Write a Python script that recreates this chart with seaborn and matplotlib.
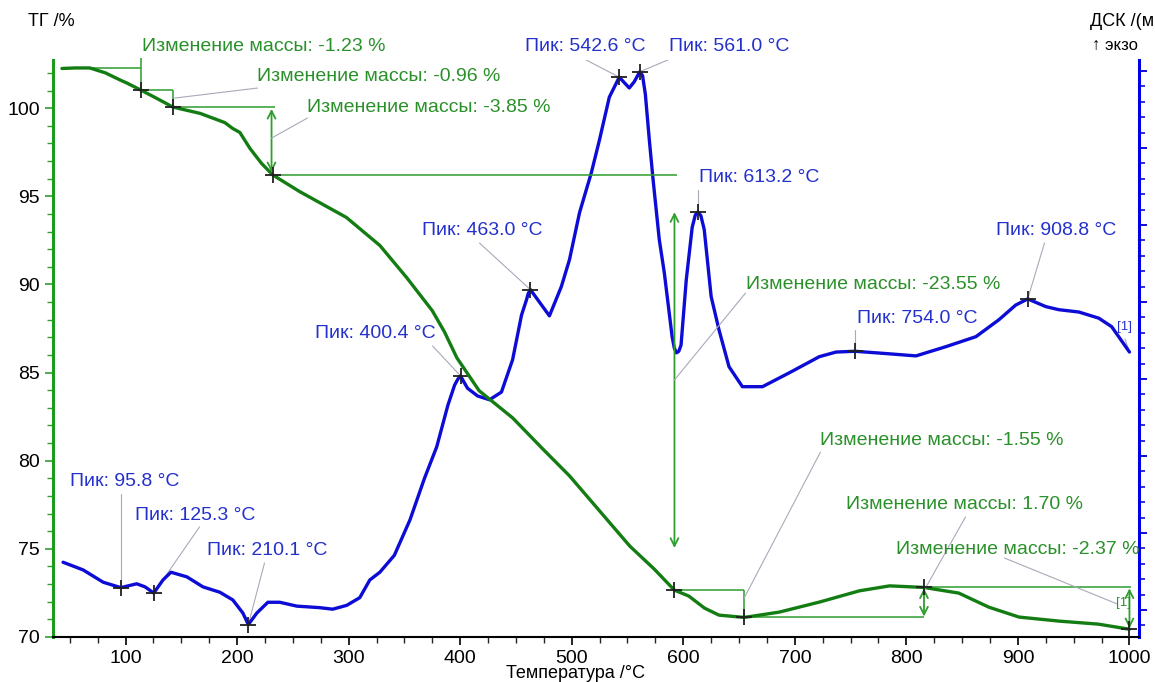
import numpy as np
import pandas as pd
import matplotlib
matplotlib.use("Agg")
import matplotlib.pyplot as plt
from matplotlib.ticker import MultipleLocator, NullFormatter
import seaborn as sns

# ---------------- data ----------------
tg_T = [43, 55, 68, 82, 95, 101, 113.9, 126, 142.5, 167, 189, 196, 202.5, 211.5, 222, 232,
        256, 298, 328, 352, 375, 386, 397, 417, 447, 474, 498, 525, 552, 574, 592, 605,
        619, 632, 654.6, 686, 722, 758, 785, 815.8, 847, 874, 901, 937, 972, 1000]
tg_v = [102.25, 102.28, 102.28, 102.0, 101.6, 101.43, 101.02, 100.62, 100.06, 99.70,
        99.18, 98.85, 98.62, 97.72, 96.86, 96.21, 95.27, 93.80, 92.21, 90.39, 88.51,
        87.30, 85.84, 83.97, 82.43, 80.67, 79.14, 77.15, 75.16, 73.85, 72.66, 72.32,
        71.64, 71.24, 71.11, 71.41, 71.98, 72.62, 72.90, 72.81, 72.49, 71.69, 71.13,
        70.90, 70.73, 70.44]

dsc_T = [44, 62, 80, 95.8, 110, 117.5, 125.3, 133.6, 140.7, 155, 169.4, 184.6, 196.2,
         205.2, 210.1, 217.7, 227.6, 238.3, 253.5, 274, 285.7, 298.3, 310, 319, 328,
         341, 355, 368, 379, 389, 395, 398, 400.4, 403, 406.6, 415.6, 426.3, 437, 447,
         455, 459.5, 461, 463, 466, 471, 480, 490.7, 498, 507, 517.6, 524.8, 533.7,
         542.6, 551.6, 556, 561, 563.5, 566, 569.6, 573, 578.5, 583, 590, 592, 594,
         596, 598, 602.7, 608, 610.8, 613.2, 615.8, 618.8, 625, 632, 641, 653, 671,
         695, 722, 737, 754, 782, 808.6, 835.5, 862.4, 883, 898, 908.8, 925, 936.7,
         954.6, 972.5, 984, 1000]
dsc_v = [0.62, 0.52, 0.36, 0.29, 0.34, 0.30, 0.22, 0.39, 0.49, 0.43, 0.30, 0.23, 0.13,
         -0.04, -0.19, -0.04, 0.10, 0.10, 0.05, 0.03, 0.01, 0.06, 0.16, 0.39, 0.49,
         0.71, 1.17, 1.71, 2.12, 2.66, 2.92, 3.00, 3.04, 2.97, 2.88, 2.78, 2.73, 2.83,
         3.25, 3.83, 4.03, 4.11, 4.16, 4.10, 4.00, 3.82, 4.20, 4.55, 5.16, 5.68, 6.10,
         6.66, 6.92, 6.78, 6.86, 6.99, 6.94, 6.70, 6.10, 5.58, 4.81, 4.38, 3.55, 3.40,
         3.34, 3.36, 3.44, 4.29, 4.97, 5.13, 5.17, 5.12, 4.94, 4.07, 3.64, 3.16, 2.90,
         2.90, 3.08, 3.29, 3.35, 3.36, 3.33, 3.30, 3.42, 3.55, 3.77, 3.96, 4.04, 3.94,
         3.90, 3.87, 3.79, 3.68, 3.35]

peak_T = [95.8, 125.3, 210.1, 400.4, 463.0, 542.6, 561.0, 613.2, 754.0, 908.8]
peak_labels = ["Пик: 95.8 °C", "Пик: 125.3 °C", "Пик: 210.1 °C", "Пик: 400.4 °C",
               "Пик: 463.0 °C", "Пик: 542.6 °C", "Пик: 561.0 °C", "Пик: 613.2 °C",
               "Пик: 754.0 °C", "Пик: 908.8 °C"]

tg_start_level = 102.25
step_T = [113.9, 142.5, 232, 592, 654.6, 815.8, 1000]
mass_labels = ["Изменение массы: -1.23 %", "Изменение массы: -0.96 %",
               "Изменение массы: -3.85 %", "Изменение массы: -23.55 %",
               "Изменение массы: -1.55 %", "Изменение массы: 1.70 %",
               "Изменение массы: -2.37 %"]

x_ticks = [100, 200, 300, 400, 500, 600, 700, 800, 900, 1000]
y_ticks = [70, 75, 80, 85, 90, 95, 100]

# ---------------- style ----------------
sns.set_style("white")
plt.rcParams['font.family'] = ['Liberation Sans', 'DejaVu Sans']

TG_C = '#137d13'
TG_THIN = '#2e9e2e'
TG_TXT = '#2a902a'
DSC_C = '#0c0cd6'
DSC_TXT = '#2430cc'
LEAD = '#a9a9b9'
FS = 14

fig = plt.figure(figsize=(11.55, 6.82), dpi=100)
ax = fig.add_axes([0.0459, 0.066, 0.9402, 0.846])
ax2 = ax.twinx()

tg_df = pd.DataFrame({"T": tg_T, "TG": tg_v})
dsc_df = pd.DataFrame({"T": dsc_T, "DSC": dsc_v})

sns.lineplot(data=tg_df, x="T", y="TG", ax=ax, color=TG_C, lw=2.4, zorder=3)
sns.lineplot(data=dsc_df, x="T", y="DSC", ax=ax2, color=DSC_C, lw=2.4, zorder=3)

ax.set_xlim(35, 1008.5)
ax.set_ylim(70, 102.73)
ax2.set_ylim(-0.351, 7.143)

ax.set_xticks(x_ticks)
ax.set_yticks(y_ticks)
ax.xaxis.set_minor_locator(MultipleLocator(25))
ax.yaxis.set_minor_locator(MultipleLocator(1))
ax2.yaxis.set_major_locator(MultipleLocator(1))
ax2.yaxis.set_minor_locator(MultipleLocator(0.2))
ax2.yaxis.set_major_formatter(NullFormatter())

ax.set_xlabel("")
ax.set_ylabel("")
ax2.set_ylabel("")

ax.tick_params(axis='x', which='major', direction='out', length=6, width=1.2,
               labelsize=FS, colors='black', bottom=True)
ax.tick_params(axis='x', which='minor', direction='out', length=4, width=1.0, bottom=True)
ax.tick_params(axis='y', which='major', direction='out', length=6, width=1.2,
               labelsize=FS, color=TG_THIN, labelcolor='black', left=True)
ax.tick_params(axis='y', which='minor', direction='out', length=4, width=1.0,
               color=TG_THIN, left=True)
ax2.tick_params(axis='y', which='major', direction='out', length=6, width=1.4,
                color=DSC_C, right=True)
ax2.tick_params(axis='y', which='minor', direction='out', length=4, width=1.2,
                color=DSC_C, right=True)

for a in (ax, ax2):
    a.spines['top'].set_visible(False)
ax.spines['left'].set_color('#1e9a1e')
ax.spines['left'].set_linewidth(2.2)
ax.spines['bottom'].set_color('black')
ax.spines['bottom'].set_linewidth(1.5)
ax.spines['right'].set_visible(False)
ax2.spines['left'].set_visible(False)
ax2.spines['bottom'].set_visible(False)
ax2.spines['right'].set_color('#0000e6')
ax2.spines['right'].set_linewidth(2.2)

ax.set_zorder(2)
ax2.set_zorder(1)
ax.patch.set_visible(False)

# ---------------- TG steps ----------------
step_v = list(np.interp(step_T, tg_T, tg_v))
lw_t = 1.1
ax.hlines(tg_start_level, 68, step_T[0], color=TG_THIN, lw=lw_t)
ax.vlines(step_T[0], step_v[0], 102.84, color=TG_THIN, lw=lw_t, clip_on=False)
ax.hlines(step_v[0], step_T[0], step_T[1], color=TG_THIN, lw=lw_t)
ax.vlines(step_T[1], step_v[1], step_v[0], color=TG_THIN, lw=lw_t)
ax.hlines(step_v[1], step_T[1], 233.8, color=TG_THIN, lw=lw_t)
ax.hlines(step_v[2], step_T[2], 594.8, color=TG_THIN, lw=lw_t)
ax.hlines(step_v[3], step_T[3], step_T[4], color=TG_THIN, lw=lw_t)
ax.vlines(step_T[4], step_v[4], step_v[3], color=TG_THIN, lw=lw_t)
ax.hlines(step_v[4], step_T[4], step_T[5], color=TG_THIN, lw=lw_t)
ax.hlines(step_v[5], step_T[5], 1001, color=TG_THIN, lw=lw_t)

arrow_kw = dict(arrowstyle='<->', color=TG_THIN, lw=1.3, mutation_scale=14,
                shrinkA=0, shrinkB=0)
ax.annotate('', xy=(230.9, step_v[1] - 0.1), xytext=(230.9, step_v[2] + 0.15),
            arrowprops=arrow_kw)
ax.annotate('', xy=(592.1, 94.1), xytext=(592.1, 75.05), arrowprops=arrow_kw)
ax.annotate('', xy=(step_T[5], step_v[5] - 0.05), xytext=(step_T[5], step_v[4] + 0.05),
            arrowprops=arrow_kw)
ax.annotate('', xy=(step_T[6], step_v[5] - 0.05), xytext=(step_T[6], step_v[6] + 0.05),
            arrowprops=arrow_kw)

ax.plot(step_T, step_v, ls='none', marker='+', ms=11, mew=1.3, color='#202020', zorder=5)

mass_pos = [(115.2, 103.52), (218.3, 101.82), (263.1, 100.06), (655.8, 90.02),
            (723.0, 81.12), (746.3, 77.49), (791.1, 74.99)]
mass_lead = [None,
             ((143.9, 100.57), (218.3, 101.14)),
             ((230.9, 98.30), (263.1, 99.44)),
             ((592.1, 84.58), (655.8, 89.51)),
             ((654.6, 72.21), (723.0, 80.49)),
             ((816.2, 72.67), (853.0, 76.81)),
             ((887.9, 74.48), (989.2, 71.87))]
for lab, pos, ld in zip(mass_labels, mass_pos, mass_lead):
    ax.text(pos[0], pos[1], lab, color=TG_TXT, fontsize=FS, ha='left', va='center',
            clip_on=False, zorder=6)
    if ld is not None:
        ax.plot([ld[0][0], ld[1][0]], [ld[0][1], ld[1][1]], color=LEAD, lw=0.8, zorder=4)
ax.text(987.5, 71.93, "[1]", color=TG_TXT, fontsize=9.5, ha='left', va='center', zorder=6)

# ---------------- DSC peaks ----------------
peak_v = list(np.interp(peak_T, dsc_T, dsc_v))
ax2.plot(peak_T, peak_v, ls='none', marker='+', ms=11, mew=1.3, color='#202020', zorder=5)

peak_pos = [(49.8, 1.675), (108.1, 1.221), (172.6, 0.766), (270.3, 3.597),
            (366.2, 4.935), (457.7, 7.325), (587.6, 7.325), (614.5, 5.623),
            (756.1, 3.792), (880.8, 4.935)]
peak_lead_end = [(95.8, 1.506), (166.3, 1.078), (224.6, 0.61), (375.2, 3.429),
                 (417.3, 4.766), (509.6, 7.169), (590.3, 7.169), (613.2, 5.455),
                 (754.0, 3.636), (923.8, 4.766)]
for lab, pos, le, pt, pv in zip(peak_labels, peak_pos, peak_lead_end, peak_T, peak_v):
    ax2.text(pos[0], pos[1], lab, color=DSC_TXT, fontsize=FS, ha='left', va='center',
             clip_on=False, zorder=6)
    ax2.plot([pt, le[0]], [pv, le[1]], color=LEAD, lw=0.8, zorder=2)
ax2.text(989.2, 3.675, "[1]", color=DSC_TXT, fontsize=9.5, ha='left', va='center', zorder=6)
ax2.plot([996, 1000], [3.52, dsc_v[-1]], color=LEAD, lw=0.8)

# ---------------- axis titles ----------------
fig.text(0.024, 0.968, "ТГ /%", fontsize=13, ha='left', va='center', color='black')
fig.text(0.9437, 0.968, "ДСК /(мВт/мг)", fontsize=13, ha='left', va='center', color='black')
fig.text(0.9455, 0.933, "↑ экзо", fontsize=12, ha='left', va='center', color='black')
fig.text(0.498, 0.012, "Температура /°C", fontsize=13, ha='center', va='center',
         color='black')

fig.savefig("out.png", dpi=100)
